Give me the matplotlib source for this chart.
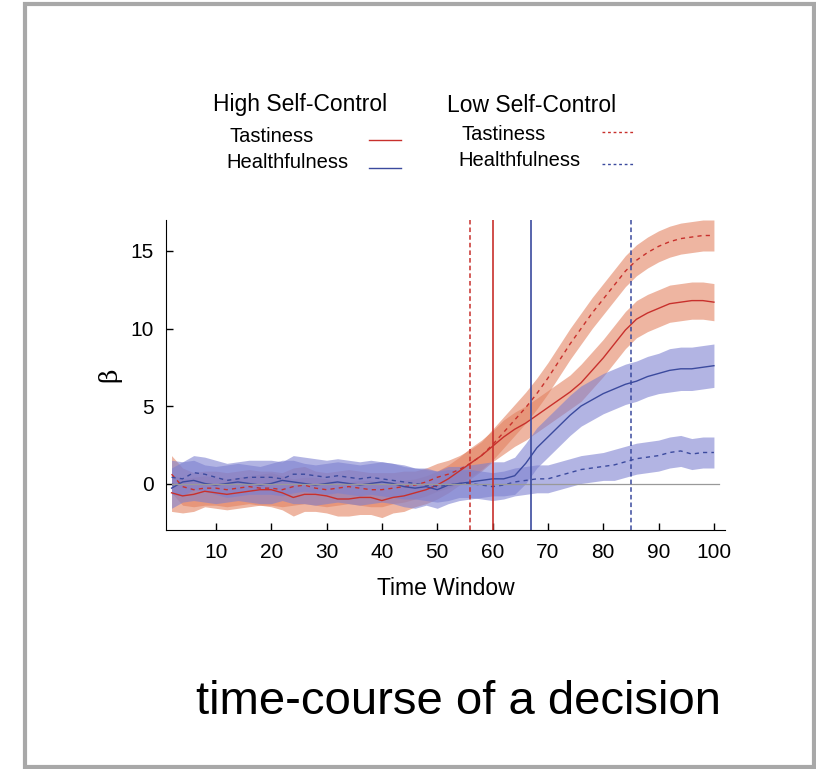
import numpy as np
import matplotlib
matplotlib.use("Agg")
from matplotlib import pyplot as plt
from matplotlib.lines import Line2D
from matplotlib.patches import Rectangle

# time windows (every second window)
t = np.arange(2, 102, 2)

# High self-control, tastiness
hs_taste = [-0.6, -0.8, -0.7, -0.5, -0.6, -0.7, -0.6, -0.5, -0.4, -0.4,
            -0.6, -0.9, -0.7, -0.7, -0.8, -1.0, -1.0, -0.9, -0.9, -1.1,
            -0.9, -0.8, -0.6, -0.4, -0.1, 0.3, 0.8, 1.3, 1.8, 2.4,
            3.0, 3.5, 3.9, 4.4, 4.9, 5.4, 5.9, 6.5, 7.3, 8.1,
            9.0, 9.9, 10.6, 11.0, 11.3, 11.6, 11.7, 11.8, 11.8, 11.7]
hs_taste_ci = [1.2, 1.1, 1.1, 1.0, 1.0, 1.0, 1.0, 1.0, 1.0, 1.1,
               1.1, 1.2, 1.1, 1.1, 1.1, 1.1, 1.1, 1.1, 1.1, 1.1,
               1.0, 1.0, 0.9, 0.9, 0.9, 0.9, 0.9, 1.0, 1.0, 1.0,
               1.1, 1.1, 1.1, 1.1, 1.1, 1.1, 1.1, 1.2, 1.2, 1.2,
               1.2, 1.2, 1.2, 1.2, 1.2, 1.2, 1.2, 1.2, 1.2, 1.2]

# Low self-control, tastiness
ls_taste = [0.6, -0.2, -0.4, -0.3, -0.3, -0.4, -0.3, -0.2, -0.3, -0.3,
            -0.4, -0.2, -0.1, -0.3, -0.4, -0.3, -0.2, -0.3, -0.4, -0.4,
            -0.3, -0.2, -0.1, 0.1, 0.4, 0.6, 0.9, 1.3, 1.8, 2.5,
            3.3, 4.1, 4.9, 5.8, 6.8, 7.9, 9.0, 10.0, 11.0, 11.9,
            12.8, 13.7, 14.4, 14.9, 15.3, 15.6, 15.8, 15.9, 16.0, 16.0]
ls_taste_ci = [1.2, 1.2, 1.1, 1.1, 1.1, 1.1, 1.1, 1.1, 1.1, 1.1,
               1.1, 1.2, 1.2, 1.1, 1.1, 1.1, 1.1, 1.1, 1.1, 1.1,
               1.0, 1.0, 0.9, 0.9, 0.9, 0.9, 0.9, 0.9, 0.9, 1.0,
               1.0, 1.0, 1.0, 1.0, 1.0, 1.0, 1.0, 1.0, 1.0, 1.0,
               1.0, 1.0, 1.0, 1.0, 1.0, 1.0, 1.0, 1.0, 1.0, 1.0]

# High self-control, healthfulness
hs_health = [-0.3, 0.1, 0.2, 0.0, -0.1, 0.0, 0.1, 0.0, -0.1, 0.0,
             0.2, 0.1, 0.0, -0.1, 0.0, 0.1, 0.0, -0.1, 0.0, 0.1,
             0.0, -0.2, -0.3, -0.2, -0.4, -0.1, 0.0, 0.1, 0.2, 0.3,
             0.3, 0.5, 1.3, 2.3, 3.0, 3.7, 4.4, 5.0, 5.4, 5.8,
             6.1, 6.4, 6.6, 6.9, 7.1, 7.3, 7.4, 7.4, 7.5, 7.6]
hs_health_ci = [1.3, 1.3, 1.3, 1.2, 1.2, 1.2, 1.2, 1.2, 1.2, 1.3,
                1.3, 1.4, 1.3, 1.3, 1.3, 1.3, 1.3, 1.3, 1.3, 1.3,
                1.3, 1.3, 1.3, 1.2, 1.2, 1.2, 1.1, 1.1, 1.1, 1.1,
                1.1, 1.2, 1.3, 1.3, 1.3, 1.3, 1.3, 1.3, 1.3, 1.3,
                1.3, 1.3, 1.3, 1.3, 1.3, 1.4, 1.4, 1.4, 1.4, 1.4]

# Low self-control, healthfulness
ls_health = [0.4, 0.3, 0.7, 0.6, 0.4, 0.2, 0.3, 0.4, 0.4, 0.4,
             0.3, 0.6, 0.6, 0.5, 0.4, 0.5, 0.4, 0.3, 0.4, 0.3,
             0.2, 0.1, 0.0, -0.1, -0.2, -0.1, 0.0, 0.0, -0.1, -0.2,
             -0.1, 0.1, 0.2, 0.3, 0.3, 0.5, 0.7, 0.9, 1.0, 1.1,
             1.2, 1.4, 1.6, 1.7, 1.8, 2.0, 2.1, 1.9, 2.0, 2.0]
ls_health_ci = [1.1, 1.1, 1.1, 1.1, 1.1, 1.1, 1.1, 1.1, 1.1, 1.1,
                1.1, 1.2, 1.1, 1.1, 1.1, 1.1, 1.1, 1.1, 1.1, 1.1,
                1.1, 1.1, 1.0, 1.0, 1.0, 1.0, 0.9, 0.9, 0.9, 0.9,
                0.9, 0.9, 0.9, 0.9, 0.9, 0.9, 0.9, 0.9, 0.9, 0.9,
                1.0, 1.0, 1.0, 1.0, 1.0, 1.0, 1.0, 1.0, 1.0, 1.0]

# decision points (vertical markers)
hs_taste_onset = 60
ls_taste_onset = 56
hs_health_onset = 67
ls_health_onset = 85

RED = "#c8302c"
BLUE = "#3b4a9e"
RED_FILL = "#e2805e"
BLUE_FILL = "#7b7fd0"
SANS = "Liberation Sans"

fig = plt.figure(figsize=(8.16, 7.69), dpi=100)
fig.add_artist(Rectangle((25 / 816, 2 / 769), (789 / 816), (763 / 769),
                         transform=fig.transFigure, fill=False,
                         edgecolor="#a8a8a8", linewidth=3))

ax = fig.add_axes([166 / 816, 239 / 769, 559 / 816, 310 / 769])

series = [
    (hs_taste, hs_taste_ci, RED, RED_FILL, "-"),
    (ls_taste, ls_taste_ci, RED, RED_FILL, (0, (3, 3))),
    (hs_health, hs_health_ci, BLUE, BLUE_FILL, "-"),
    (ls_health, ls_health_ci, BLUE, BLUE_FILL, (0, (3, 3))),
]
for m, ci, c, fc, ls in series:
    m = np.array(m)
    ci = np.array(ci)
    ax.fill_between(t, m - ci, m + ci, color=fc, alpha=0.58, linewidth=0)
for m, ci, c, fc, ls in series:
    ax.plot(t, m, color=c, lw=1.0, linestyle=ls)

ax.plot([t[0], 101], [0, 0], color="#999999", lw=0.9)
ax.axvline(ls_taste_onset, color=RED, lw=1.1, linestyle=(0, (3, 2)))
ax.axvline(hs_taste_onset, color=RED, lw=1.2)
ax.axvline(hs_health_onset, color=BLUE, lw=1.2)
ax.axvline(ls_health_onset, color=BLUE, lw=1.1, linestyle=(0, (3, 2)))

ax.set_xlim(1, 102)
ax.set_ylim(-3, 17)
ax.set_xticks(range(10, 101, 10))
ax.set_yticks([0, 5, 10, 15])
ax.spines["top"].set_visible(False)
ax.spines["right"].set_visible(False)
ax.tick_params(direction="in", length=5, width=1, labelsize=15, pad=9)
for lab in ax.get_xticklabels() + ax.get_yticklabels():
    lab.set_family(SANS)
ax.set_xlabel("Time Window", fontsize=16.5, family=SANS, labelpad=11)
ax.set_ylabel("β", fontsize=18, family="DejaVu Serif", labelpad=6)

# legend drawn by hand
def ftext(x, y, s, size=14.5):
    fig.text(x / 816, 1 - y / 769, s, fontsize=size, family=SANS,
             ha="left", va="center")

ftext(213, 105, "High Self-Control", 16.5)
ftext(229, 137, "Tastiness")
ftext(226, 163, "Healthfulness")
ftext(447, 105, "Low Self-Control", 16.5)
ftext(462, 134, "Tastiness")
ftext(458, 161, "Healthfulness")
for x0, x1, y, c, ls in [(369, 401, 140, RED, "-"), (369, 401, 168, BLUE, "-"),
                         (602, 633, 132, RED, (0, (2, 2))),
                         (602, 633, 164, BLUE, (0, (2, 2)))]:
    fig.add_artist(Line2D([x0 / 816, x1 / 816], [1 - y / 769, 1 - y / 769],
                          transform=fig.transFigure, color=c, lw=1, linestyle=ls))

fig.text(458 / 816, 1 - 702 / 769, "time-course of a decision", fontsize=34,
         family=SANS, ha="center", va="center")

fig.savefig("out.png", dpi=100)
